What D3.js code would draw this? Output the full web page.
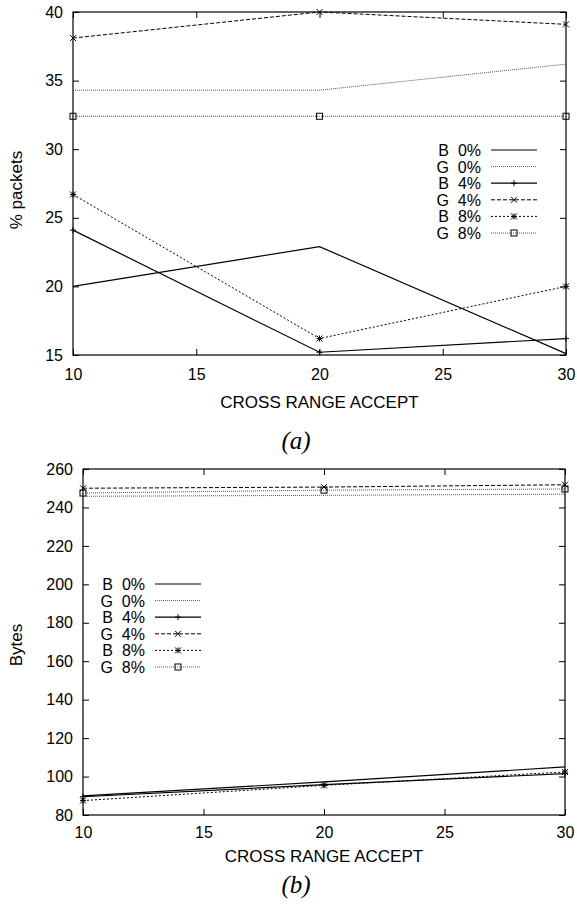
<!DOCTYPE html>
<html>
<head>
<meta charset="utf-8">
<script src="https://cdn.jsdelivr.net/npm/d3@7"></script>
<style>
  body { margin: 0; background: #fff; }
  text { font-family: "Liberation Sans", Arial, sans-serif; fill: #000; }
</style>
</head>
<body>
<div id="chart"></div>
<script>
// Data
var crossRange = [10, 20, 30];
var seriesNames = ["B  0%", "G  0%", "B  4%", "G  4%", "B  8%", "G  8%"];

// (a) % packets
var packetsB0 = [20.0, 22.9, 15.1];
var packetsG0 = [34.3, 34.3, 36.2];
var packetsB4 = [24.1, 15.2, 16.2];
var packetsG4 = [38.1, 40.0, 39.1];
var packetsB8 = [26.7, 16.2, 20.0];
var packetsG8 = [32.4, 32.4, 32.4];

// (b) Bytes
var bytesB0 = [89.9, 97.2, 105.0];
var bytesG0 = [245.8, 246.3, 246.9];
var bytesB4 = [89.5, 95.8, 101.5];
var bytesG4 = [250.0, 250.6, 251.8];
var bytesB8 = [87.5, 95.4, 102.4];
var bytesG8 = [247.5, 249.0, 249.6];

var xTicks = [10, 15, 20, 25, 30];
var packetsTicks = [15, 20, 25, 30, 35, 40];
var bytesTicks = [80, 100, 120, 140, 160, 180, 200, 220, 240, 260];

// line styles (gnuplot mono look)
var styles = [
  { dash: null, color: "#000", width: 1.2, marker: "dot" },
  { dash: "1,1", color: "#555", width: 1, marker: "dot" },
  { dash: null, color: "#000", width: 1.2, marker: "plus" },
  { dash: "4,2", color: "#000", width: 1, marker: "cross" },
  { dash: "2,2", color: "#000", width: 1, marker: "star" },
  { dash: "1,1", color: "#555", width: 1, marker: "square" }
];

var W = 577, H = 905;
var svg = d3.select("#chart").append("svg").attr("width", W).attr("height", H);

function drawMarker(g, type, x, y, color) {
  var s = 3;
  if (type === "plus") {
    g.append("path").attr("d", "M" + (x - s) + "," + y + "H" + (x + s) + "M" + x + "," + (y - s) + "V" + (y + s))
      .attr("stroke", color).attr("stroke-width", 1).attr("fill", "none");
  } else if (type === "cross") {
    g.append("path").attr("d", "M" + (x - s) + "," + (y - s) + "L" + (x + s) + "," + (y + s) + "M" + (x - s) + "," + (y + s) + "L" + (x + s) + "," + (y - s))
      .attr("stroke", color).attr("stroke-width", 1).attr("fill", "none");
  } else if (type === "star") {
    g.append("path").attr("d", "M" + (x - s) + "," + y + "H" + (x + s) + "M" + x + "," + (y - s) + "V" + (y + s) +
      "M" + (x - s) + "," + (y - s) + "L" + (x + s) + "," + (y + s) + "M" + (x - s) + "," + (y + s) + "L" + (x + s) + "," + (y - s))
      .attr("stroke", color).attr("stroke-width", 1).attr("fill", "none");
  } else if (type === "square") {
    g.append("rect").attr("x", x - s).attr("y", y - s).attr("width", 2 * s).attr("height", 2 * s)
      .attr("stroke", "#000").attr("stroke-width", 1).attr("fill", "none");
  }
}

function drawPanel(cfg) {
  var g = svg.append("g");
  var x = d3.scaleLinear().domain([10, 30]).range([cfg.left, cfg.right]);
  var y = d3.scaleLinear().domain(cfg.yDomain).range([cfg.bottom, cfg.top]);

  // frame
  g.append("rect").attr("x", cfg.left).attr("y", cfg.top)
    .attr("width", cfg.right - cfg.left).attr("height", cfg.bottom - cfg.top)
    .attr("fill", "none").attr("stroke", "#000").attr("stroke-width", 1.2);

  // axes with inward ticks, mirrored
  var tl = 6;
  g.append("g").attr("transform", "translate(0," + cfg.bottom + ")")
    .call(d3.axisBottom(x).tickValues(xTicks).tickSize(-tl).tickPadding(cfg.xPad).tickFormat(d3.format("d")))
    .call(function (a) { a.select(".domain").remove(); a.selectAll("text").style("font-size", "16px").attr("font-family", "Liberation Sans, Arial"); });
  g.append("g").attr("transform", "translate(0," + cfg.top + ")")
    .call(d3.axisTop(x).tickValues(xTicks).tickSize(-tl).tickFormat(""))
    .call(function (a) { a.select(".domain").remove(); });
  g.append("g").attr("transform", "translate(" + cfg.left + ",0)")
    .call(d3.axisLeft(y).tickValues(cfg.yTicks).tickSize(-tl).tickPadding(cfg.yPad).tickFormat(d3.format("d")))
    .call(function (a) { a.select(".domain").remove(); a.selectAll("text").style("font-size", "16px").attr("font-family", "Liberation Sans, Arial"); });
  g.append("g").attr("transform", "translate(" + cfg.right + ",0)")
    .call(d3.axisRight(y).tickValues(cfg.yTicks).tickSize(-tl).tickFormat(""))
    .call(function (a) { a.select(".domain").remove(); });
  g.selectAll(".tick line").attr("stroke", "#000").attr("stroke-width", 1);

  // axis titles
  g.append("text").attr("x", (cfg.left + cfg.right) / 2).attr("y", cfg.xTitleY)
    .attr("text-anchor", "middle").style("font-size", "17px").text("CROSS RANGE ACCEPT");
  g.append("text").attr("transform", "translate(" + cfg.yTitleX + "," + cfg.yTitleY + ") rotate(-90)")
    .attr("text-anchor", "middle").style("font-size", "17px").text(cfg.yTitle);

  // series
  var line = d3.line().x(function (d) { return x(d.x); }).y(function (d) { return y(d.y); });
  cfg.series.forEach(function (vals, i) {
    var st = styles[i];
    var pts = crossRange.map(function (cx, j) { return { x: cx, y: vals[j] }; });
    g.append("path").datum(pts).attr("d", line).attr("fill", "none")
      .attr("stroke", st.color).attr("stroke-width", st.width)
      .attr("stroke-dasharray", st.dash);
    pts.forEach(function (p) { drawMarker(g, st.marker, x(p.x), y(p.y), "#000"); });
  });

  // legend
  seriesNames.forEach(function (name, i) {
    var st = styles[i];
    var ly = cfg.legendY + i * cfg.legendStep;
    g.append("text").attr("x", cfg.legendX).attr("y", ly + 6)
      .attr("text-anchor", "end").style("font-size", "16px")
      .style("white-space", "pre").attr("xml:space", "preserve").text(name);
    g.append("line").attr("x1", cfg.legendX + 10).attr("x2", cfg.legendX + 56)
      .attr("y1", ly).attr("y2", ly)
      .attr("stroke", st.color).attr("stroke-width", st.width).attr("stroke-dasharray", st.dash);
    drawMarker(g, st.marker, cfg.legendX + 33, ly, "#000");
  });

  // caption
  g.append("text").attr("x", 296).attr("y", cfg.captionY).attr("text-anchor", "middle")
    .style("font-family", "Liberation Serif, Times New Roman, serif").style("font-style", "italic")
    .style("font-size", "25px").text(cfg.caption);
}

drawPanel({
  left: 73, right: 566, top: 12, bottom: 355,
  yDomain: [15, 40], yTicks: packetsTicks, yPad: 10, xPad: 14,
  yTitle: "% packets", yTitleX: 22, yTitleY: 190,
  xTitleY: 408, caption: "(a)", captionY: 449,
  series: [packetsB0, packetsG0, packetsB4, packetsG4, packetsB8, packetsG8],
  legendX: 481, legendY: 150, legendStep: 16.6
});

drawPanel({
  left: 83, right: 565, top: 469, bottom: 815,
  yDomain: [80, 260], yTicks: bytesTicks, yPad: 10, xPad: 12,
  yTitle: "Bytes", yTitleX: 22, yTitleY: 645,
  xTitleY: 862, caption: "(b)", captionY: 893,
  series: [bytesB0, bytesG0, bytesB4, bytesG4, bytesB8, bytesG8],
  legendX: 145, legendY: 584, legendStep: 16.6
});
</script>
</body>
</html>
